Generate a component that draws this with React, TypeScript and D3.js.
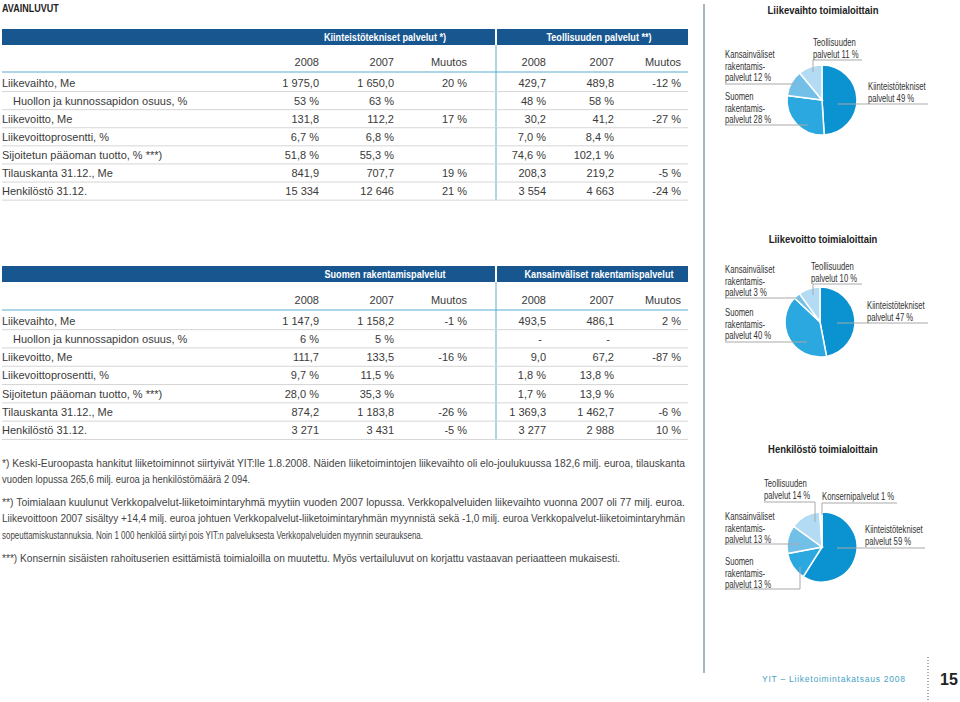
import React from "react";
import * as d3 from "d3";

// ---------- DATA ----------
const rowLabels = [
  "Liikevaihto, Me",
  "Huollon ja kunnossapidon osuus, %",
  "Liikevoitto, Me",
  "Liikevoittoprosentti, %",
  "Sijoitetun pääoman tuotto, % ***)",
  "Tilauskanta 31.12., Me",
  "Henkilöstö 31.12.",
];
const colHeaders = ["2008", "2007", "Muutos"];

const table1Groups = ["Kiinteistötekniset palvelut *)", "Teollisuuden palvelut **)"];
const kiinteistoValues = [
  ["1 975,0", "1 650,0", "20 %"],
  ["53 %", "63 %", ""],
  ["131,8", "112,2", "17 %"],
  ["6,7 %", "6,8 %", ""],
  ["51,8 %", "55,3 %", ""],
  ["841,9", "707,7", "19 %"],
  ["15 334", "12 646", "21 %"],
];
const teollisuusValues = [
  ["429,7", "489,8", "-12 %"],
  ["48 %", "58 %", ""],
  ["30,2", "41,2", "-27 %"],
  ["7,0 %", "8,4 %", ""],
  ["74,6 %", "102,1 %", ""],
  ["208,3", "219,2", "-5 %"],
  ["3 554", "4 663", "-24 %"],
];

const table2Groups = ["Suomen rakentamispalvelut", "Kansainväliset rakentamispalvelut"];
const suomenValues = [
  ["1 147,9", "1 158,2", "-1 %"],
  ["6 %", "5 %", ""],
  ["111,7", "133,5", "-16 %"],
  ["9,7 %", "11,5 %", ""],
  ["28,0 %", "35,3 %", ""],
  ["874,2", "1 183,8", "-26 %"],
  ["3 271", "3 431", "-5 %"],
];
const kansainvalisetValues = [
  ["493,5", "486,1", "2 %"],
  ["-", "-", ""],
  ["9,0", "67,2", "-87 %"],
  ["1,8 %", "13,8 %", ""],
  ["1,7 %", "13,9 %", ""],
  ["1 369,3", "1 462,7", "-6 %"],
  ["3 277", "2 988", "10 %"],
];

const footnoteLines = [
  "*) Keski-Euroopasta hankitut liiketoiminnot siirtyivät YIT:lle 1.8.2008. Näiden liiketoimintojen liikevaihto oli elo-joulukuussa 182,6 milj. euroa, tilauskanta",
  "vuoden lopussa 265,6 milj. euroa ja henkilöstömäärä 2 094.",
  "**) Toimialaan kuulunut Verkkopalvelut-liiketoimintaryhmä myytiin vuoden 2007 lopussa. Verkkopalveluiden liikevaihto vuonna 2007 oli 77 milj. euroa.",
  "Liikevoittoon  2007 sisältyy +14,4 milj. euroa johtuen Verkkopalvelut-liiketoimintaryhmän myynnistä sekä -1,0 milj. euroa Verkkopalvelut-liiketoimintaryhmän",
  "sopeuttamiskustannuksia. Noin 1 000 henkilöä siirtyi pois YIT:n palveluksesta Verkkopalveluiden myynnin seurauksena.",
  "***) Konsernin sisäisten rahoituserien esittämistä toimialoilla on muutettu. Myös vertailuluvut on korjattu vastaavan periaatteen mukaisesti.",
];

const pieCategories = [
  "Kiinteistötekniset palvelut",
  "Suomen rakentamispalvelut",
  "Kansainväliset rakentamispalvelut",
  "Teollisuuden palvelut",
  "Konsernipalvelut",
];
const liikevaihtoShares = [49, 28, 12, 11];
const liikevoittoShares = [47, 40, 3, 10];
const henkilostoShares = [59, 13, 13, 14, 1];

const pieTitles = ["Liikevaihto toimialoittain", "Liikevoitto toimialoittain", "Henkilöstö toimialoittain"];

// ---------- STYLE ----------
const FONT = "'Liberation Sans', Arial, Helvetica, sans-serif";
const TXT = "#3a3a3a";
const NAVY = "#17568f";
const TEAL = "#5aaccb";
const GRID = "#d6d6d6";
const sliceColors = ["#0b93d1", "#2ba8df", "#72bfe8", "#b3dbf3", "#e2f1fa"];

type CT = { x: number; y: number; text: string; sx?: number; size?: number; bold?: boolean; anchor?: string; fill?: string };
const CText = ({ x, y, text, sx = 0.82, size = 11, bold = false, anchor = "start", fill = TXT }: CT) => (
  <text
    transform={`translate(${x},${y}) scale(${sx},1)`}
    fontSize={size}
    fontWeight={bold ? 700 : 400}
    textAnchor={anchor as any}
    dominantBaseline="central"
    fill={fill}
    fontFamily={FONT}
  >
    {text}
  </text>
);

const colX = [319, 394, 467, 546, 614, 681];
const divX = 496;
const groupCenters = [385, 599];

function Table({ barTop, yearY, tealY, rowY0, step, groups, left, right }: any) {
  const rowsY = rowLabels.map((_, i) => rowY0 + i * step);
  const lastLine = rowsY[rowsY.length - 1] + step / 2;
  return (
    <g fontFamily={FONT}>
      <rect x={2} y={barTop} width={686} height={16} fill={NAVY} />
      <rect x={divX - 1} y={barTop} width={2} height={16} fill="#fff" />
      {groups.map((g: string, i: number) => (
        <CText key={g} x={groupCenters[i]} y={barTop + 8} text={g} bold anchor="middle" fill="#fff" sx={0.83} size={11} />
      ))}
      <line x1={divX} x2={divX} y1={barTop + 16} y2={lastLine} stroke={TEAL} strokeWidth={1} />
      {[0, 1].map((gi) =>
        colHeaders.map((h, ci) => (
          <text key={`${gi}-${ci}`} x={colX[gi * 3 + ci]} y={yearY} textAnchor="end" dominantBaseline="central" fontSize={11} fill={TXT}>
            {h}
          </text>
        ))
      )}
      <line x1={2} x2={688} y1={tealY} y2={tealY} stroke={TEAL} strokeWidth={1.2} />
      {rowLabels.map((lab, ri) => (
        <g key={lab}>
          <text x={ri === 1 ? 13 : 2} y={rowsY[ri]} dominantBaseline="central" fontSize={11} fill={TXT}>
            {lab}
          </text>
          {[left[ri], right[ri]].map((vals: string[], gi: number) =>
            vals.map((v, ci) => (
              <text
                key={`${gi}-${ci}`}
                x={colX[gi * 3 + ci] - (v === "-" ? 4 : 0)}
                y={rowsY[ri]}
                textAnchor="end"
                dominantBaseline="central"
                fontSize={11}
                fill={TXT}
              >
                {v}
              </text>
            ))
          )}
          <line x1={2} x2={688} y1={rowsY[ri] + step / 2} y2={rowsY[ri] + step / 2} stroke={GRID} strokeWidth={1} />
        </g>
      ))}
    </g>
  );
}

type Label = { lines: string[]; x: number; y0: number; path: [number, number][] };

function Pie({ cx, cy, values, title, titleY, labels }: { cx: number; cy: number; values: number[]; title: string; titleY: number; labels: Label[] }) {
  const arcs = d3.pie<number>().sort(null).value((d) => d)(values);
  const arc = d3.arc<d3.PieArcDatum<number>>().innerRadius(0).outerRadius(35);
  const line = d3.line();
  return (
    <g>
      <CText x={823} y={titleY} text={title} bold anchor="middle" sx={0.86} size={11} fill="#222" />
      {arcs.map((a, i) => (
        <path key={pieCategories[i]} d={arc(a) || ""} transform={`translate(${cx},${cy})`} fill={sliceColors[i]} stroke="#fff" strokeWidth={1.5} />
      ))}
      {labels.map((l, i) => (
        <g key={i}>
          <path d={line(l.path) || ""} fill="none" stroke="#a9a9a9" strokeWidth={1} />
          {l.lines.map((t, j) => (
            <CText key={j} x={l.x} y={l.y0 + j * 11.5} text={t} size={10} sx={0.77} fill="#333" />
          ))}
        </g>
      ))}
    </g>
  );
}

export default function App() {
  const fnY = [463, 479, 502, 518, 535, 558];
  const fnLen = [685, 250, 685, 685, 423, 620];
  return (
    <svg width={960} height={702} style={{ position: "absolute", left: 0, top: 0, background: "#fff" }} fontFamily={FONT}>
      <rect width={960} height={702} fill="#fff" />
      <CText x={2} y={8} text="AVAINLUVUT" bold sx={0.82} size={11} fill="#222" />

      <Table barTop={29} yearY={62} tealY={72} rowY0={82.5} step={18.1} groups={table1Groups} left={kiinteistoValues} right={teollisuusValues} />
      <Table barTop={266} yearY={300} tealY={310} rowY0={320.5} step={18.3} groups={table2Groups} left={suomenValues} right={kansainvalisetValues} />

      {footnoteLines.map((t, i) => (
        <text key={i} x={2} y={fnY[i]} dominantBaseline="central" fontSize={10} fill="#444" textLength={fnLen[i] - 2} lengthAdjust="spacingAndGlyphs">
          {t}
        </text>
      ))}

      <line x1={704} x2={704} y1={4} y2={673} stroke="#a7b7c2" strokeWidth={2} />

      <Pie
        cx={822}
        cy={100}
        values={liikevaihtoShares}
        title={pieTitles[0]}
        titleY={10}
        labels={[
          { lines: ["Kiinteistötekniset", "palvelut 49 %"], x: 868, y0: 87, path: [[838, 104], [928, 104]] },
          { lines: ["Suomen", "rakentamis-", "palvelut 28 %"], x: 725, y0: 97, path: [[725, 125], [808, 125]] },
          { lines: ["Kansainväliset", "rakentamis-", "palvelut  12 %"], x: 725, y0: 55, path: [[725, 84], [797, 84]] },
          { lines: ["Teollisuuden", "palvelut 11 %"], x: 813, y0: 43, path: [[813, 72], [813, 60], [862, 60]] },
        ]}
      />
      <Pie
        cx={820}
        cy={322}
        values={liikevoittoShares}
        title={pieTitles[1]}
        titleY={239}
        labels={[
          { lines: ["Kiinteistötekniset", "palvelut 47 %"], x: 867, y0: 306, path: [[837, 323], [928, 323]] },
          { lines: ["Suomen", "rakentamis-", "palvelut 40 %"], x: 725, y0: 313, path: [[725, 342], [807, 342]] },
          { lines: ["Kansainväliset", "rakentamis-", "palvelut  3 %"], x: 725, y0: 270, path: [[725, 298], [797, 298]] },
          { lines: ["Teollisuuden", "palvelut 10 %"], x: 811, y0: 267, path: [[813, 295], [813, 284], [862, 284]] },
        ]}
      />
      <Pie
        cx={822}
        cy={547}
        values={henkilostoShares}
        title={pieTitles[2]}
        titleY={449}
        labels={[
          { lines: ["Kiinteistötekniset", "palvelut 59 %"], x: 865, y0: 530, path: [[837, 548], [925, 548]] },
          { lines: ["Suomen", "rakentamis-", "palvelut 13 %"], x: 725, y0: 562, path: [[725, 589], [800, 589], [800, 567]] },
          { lines: ["Kansainväliset", "rakentamis-", "palvelut  13 %"], x: 725, y0: 517, path: [[725, 544], [800, 544]] },
          { lines: ["Teollisuuden", "palvelut 14 %"], x: 764, y0: 484, path: [[764, 502], [815, 502], [815, 522]] },
          { lines: ["Konsernipalvelut 1 %"], x: 822, y0: 497, path: [[822, 515], [822, 503], [897, 503]] },
        ]}
      />

      <text x={762} y={679} dominantBaseline="central" fontSize={8.5} fill="#46a2c3" textLength={143} lengthAdjust="spacing">
        YIT – Liiketoimintakatsaus 2008
      </text>
      <line x1={928} x2={928} y1={657} y2={702} stroke="#555" strokeWidth={1} strokeDasharray="1,2" />
      <text x={940} y={679} dominantBaseline="central" fontSize={16} fontWeight={700} fill="#222">
        15
      </text>
    </svg>
  );
}
